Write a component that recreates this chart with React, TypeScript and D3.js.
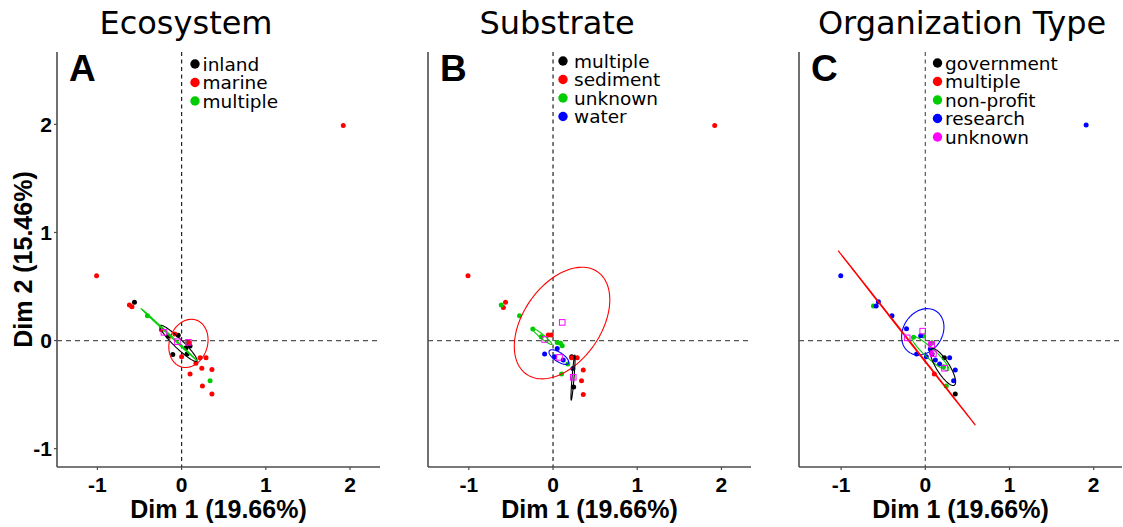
import React from "react";
import * as d3 from "d3";

const W = 1123;
const H = 527;

const palette: Record<string, string> = {
  black: "#000000",
  red: "#FF0000",
  green: "#00CD00",
  blue: "#0000FF",
  magenta: "#FF00FF",
};

const xTicks = [-1, 0, 1, 2];
const yTicks = [-1, 0, 1, 2];
const xTitle = "Dim 1 (19.66%)";
const yTitle = "Dim 2 (15.46%)";
const panelTitles = ["Ecosystem", "Substrate", "Organization Type"];
const panelLetters = ["A", "B", "C"];

// ---------- Panel A: Ecosystem ----------
const ecosystemGroups = ["inland", "marine", "multiple"];
const ecosystemColors = ["black", "red", "green"];
const ecosystemPoints: [number, number, string][] = [
  [-0.56, 0.354, "inland"], [-0.04, 0.05, "inland"], [0.05, -0.07, "inland"], [0.1, -0.05, "inland"],
  [-0.105, -0.128, "inland"], [0.065, -0.125, "inland"], [0.085, -0.02, "inland"], [-0.16, 0.04, "inland"],
  [-1.01, 0.6, "marine"], [1.92, 1.99, "marine"], [-0.62, 0.329, "marine"], [-0.59, 0.313, "marine"],
  [-0.08, 0.06, "marine"], [0.0, -0.15, "marine"], [0.17, -0.21, "marine"], [0.22, -0.16, "marine"],
  [0.29, -0.16, "marine"], [0.24, -0.257, "marine"], [0.36, -0.267, "marine"], [0.1, -0.31, "marine"],
  [0.247, -0.42, "marine"], [0.36, -0.495, "marine"], [0.09, -0.02, "marine"], [-0.24, 0.1, "marine"],
  [-0.406, 0.23, "multiple"], [0.338, -0.372, "multiple"],
];
// ellipse: group, centre x, centre y, semi-axis 1 (dx, dy), semi-axis 2 (dx, dy)
const ecosystemEllipses: [string, number, number, number, number, number, number][] = [
  ["inland", -0.038, -0.026, 0.218, -0.164, 0.037, 0.03],
  ["marine", 0.081, -0.026, 0.09, 0.216, 0.215, -0.055],
  ["multiple", -0.1525, 0.0575, 0.3275, -0.2375, 0.004, 0.005],
];
const ecosystemMeans: [number, number][] = [[-0.21, 0.076], [-0.05, -0.011], [0.081, -0.017]];

// ---------- Panel B: Substrate ----------
const substrateGroups = ["multiple", "sediment", "unknown", "water"];
const substrateColors = ["black", "red", "green", "blue"];
const substratePoints: [number, number, string][] = [
  [0.222, -0.15, "multiple"], [0.245, -0.43, "multiple"],
  [-1.01, 0.6, "sediment"], [1.92, 1.99, "sediment"], [-0.564, 0.354, "sediment"], [-0.59, 0.307, "sediment"],
  [-0.057, 0.051, "sediment"], [-0.021, 0.051, "sediment"], [0.22, -0.159, "sediment"], [0.287, -0.159, "sediment"],
  [0.359, -0.273, "sediment"], [0.338, -0.372, "sediment"], [0.359, -0.498, "sediment"],
  [-0.615, 0.329, "unknown"], [-0.398, 0.23, "unknown"], [-0.24, 0.106, "unknown"], [-0.14, 0.035, "unknown"],
  [0.05, -0.017, "unknown"], [0.089, -0.026, "unknown"], [0.109, -0.048, "unknown"], [0.176, -0.218, "unknown"],
  [0.101, -0.31, "unknown"],
  [-0.1, -0.125, "water"], [0.05, -0.073, "water"], [0.018, -0.15, "water"], [0.121, -0.18, "water"],
  [0.235, -0.258, "water"],
];
const substrateEllipses: [string, number, number, number, number, number, number][] = [
  ["sediment", 0.107, 0.162, 0.422, 0.474, 0.379, -0.205],
  ["unknown", -0.131, 0.039, 0.116, -0.074, 0.015, 0.014],
  ["water", 0.069, -0.153, 0.113, -0.058, 0.03, 0.035],
  ["multiple", 0.2375, -0.3425, 0.0215, 0.2085, 0.012, 0.001],
];
const substrateMeans: [number, number][] = [[0.109, 0.168], [-0.1, 0.01], [0.077, -0.156], [0.24, -0.34]];

// ---------- Panel C: Organization Type ----------
const orgGroups = ["government", "multiple", "non-profit", "research", "unknown"];
const orgColors = ["black", "red", "green", "blue", "magenta"];
const orgPoints: [number, number, string][] = [
  [0.226, -0.159, "government"], [0.356, -0.495, "government"], [0.08, -0.125, "government"],
  [0.107, -0.31, "multiple"],
  [-0.616, 0.319, "non-profit"], [-0.139, 0.03, "non-profit"], [-0.02, 0.042, "non-profit"],
  [0.08, -0.02, "non-profit"], [0.249, -0.421, "non-profit"], [0.217, -0.242, "non-profit"],
  [-1.004, 0.6, "research"], [1.91, 1.995, "research"], [-0.557, 0.359, "research"], [-0.584, 0.319, "research"],
  [-0.396, 0.23, "research"], [-0.223, 0.109, "research"], [-0.055, 0.045, "research"], [-0.103, -0.124, "research"],
  [0.012, -0.15, "research"], [0.059, -0.079, "research"], [0.119, -0.18, "research"], [0.17, -0.218, "research"],
  [0.289, -0.159, "research"], [0.356, -0.273, "research"], [0.336, -0.372, "research"],
  [0.059, -0.032, "unknown"], [0.077, -0.119, "unknown"],
];
const orgEllipses: [string, number, number, number, number, number, number][] = [
  ["research", -0.03, 0.081, 0.16, 0.19, 0.194, -0.099],
  ["multiple", -0.22, 0.0245, 0.815, -0.8075, 0.003, 0.003],
  ["non-profit", 0.059, -0.119, 0.217, -0.155, 0.04, 0.034],
  ["government", 0.21, -0.245, 0.135, -0.168, 0.066, 0.031],
];
const orgMeans: [number, number][] = [[-0.031, 0.087], [-0.215, 0.025], [0.076, -0.037], [0.096, -0.121], [0.228, -0.256]];

const panels = [
  { groups: ecosystemGroups, colors: ecosystemColors, points: ecosystemPoints, ellipses: ecosystemEllipses, means: ecosystemMeans },
  { groups: substrateGroups, colors: substrateColors, points: substratePoints, ellipses: substrateEllipses, means: substrateMeans },
  { groups: orgGroups, colors: orgColors, points: orgPoints, ellipses: orgEllipses, means: orgMeans },
];

// layout (not data)
const layout = [
  { left: 57, xMin: -1.48, titleX: 186, legX: 195, legTextX: 202.5, legY: 64, vDash: "#222" },
  { left: 428, xMin: -1.485, titleX: 557, legX: 563, legTextX: 574, legY: 61, vDash: "#222" },
  { left: 799, xMin: -1.5, titleX: 962, legX: 937.5, legTextX: 945, legY: 63, vDash: "#555" },
];
const plotW = 323;
const xSpan = 3.836;
const plotTop = 52;
const plotBottom = 467;
const legStep = 18.5;

const axisFont = "'Liberation Sans', Arial, sans-serif";
const textFont = "'DejaVu Sans', sans-serif";

function Panel({ idx }: { idx: number }) {
  const p = panels[idx];
  const L = layout[idx];
  const x = d3.scaleLinear().domain([L.xMin, L.xMin + xSpan]).range([L.left, L.left + plotW]);
  const y = d3.scaleLinear().domain([-1.17, 2.67]).range([plotBottom, plotTop]);
  const right = L.left + plotW;
  const colorOf = (g: string) => palette[p.colors[p.groups.indexOf(g)]];
  const line = d3.line<[number, number]>().x((d) => x(d[0])).y((d) => y(d[1])).curve(d3.curveLinearClosed);
  const ts = d3.range(0, 120).map((i) => (i / 120) * Math.PI * 2);

  return (
    <g>
      <text x={L.titleX} y={33.5} textAnchor="middle" fontFamily={textFont} fontSize={32} fill="#000">
        {panelTitles[idx]}
      </text>
      {/* reference lines */}
      <line x1={L.left} x2={right} y1={y(0)} y2={y(0)} stroke="#555" strokeWidth={1.2} strokeDasharray="5,4" />
      <line x1={x(0)} x2={x(0)} y1={plotTop} y2={plotBottom} stroke={L.vDash} strokeWidth={1.2} strokeDasharray="4,3.5" />
      {/* points */}
      {p.points.map((d, i) => (
        <circle key={"p" + i} cx={x(d[0])} cy={y(d[1])} r={2.5} fill={colorOf(d[2])} />
      ))}
      {/* ellipses */}
      {p.ellipses.map((e, i) => {
        const pts: [number, number][] = ts.map((t) => [
          e[1] + Math.cos(t) * e[3] + Math.sin(t) * e[5],
          e[2] + Math.cos(t) * e[4] + Math.sin(t) * e[6],
        ]);
        return <path key={"e" + i} d={line(pts) || ""} fill="none" stroke={colorOf(e[0])} strokeWidth={1.1} />;
      })}
      {/* group means */}
      {p.means.map((m, i) => (
        <rect key={"m" + i} x={x(m[0]) - 2.8} y={y(m[1]) - 2.8} width={5.6} height={5.6} fill="none" stroke={palette.magenta} strokeWidth={1} />
      ))}
      {/* axes */}
      <line x1={L.left} x2={L.left} y1={plotTop} y2={plotBottom} stroke="#4d4d4d" strokeWidth={1.6} />
      <line x1={L.left} x2={right} y1={plotBottom} y2={plotBottom} stroke="#4d4d4d" strokeWidth={1.6} />
      {xTicks.map((t) => (
        <g key={"xt" + t}>
          <line x1={x(t)} x2={x(t)} y1={plotBottom} y2={plotBottom + 3} stroke="#4d4d4d" strokeWidth={1.2} />
          <text x={x(t)} y={492} textAnchor="middle" fontFamily={axisFont} fontWeight="bold" fontSize={21} fill="#000">
            {t}
          </text>
        </g>
      ))}
      {idx === 0 &&
        yTicks.map((t) => (
          <g key={"yt" + t}>
            <line x1={L.left - 3} x2={L.left} y1={y(t)} y2={y(t)} stroke="#4d4d4d" strokeWidth={1.2} />
            <text x={L.left - 5} y={y(t) + 7.5} textAnchor="end" fontFamily={axisFont} fontWeight="bold" fontSize={21} fill="#000">
              {t}
            </text>
          </g>
        ))}
      <text x={(L.left + right) / 2} y={518} textAnchor="middle" fontFamily={axisFont} fontWeight="bold" fontSize={25} fill="#000">
        {xTitle}
      </text>
      {idx === 0 && (
        <text
          transform={`translate(32, ${(plotTop + plotBottom) / 2}) rotate(-90)`}
          textAnchor="middle"
          fontFamily={axisFont}
          fontWeight="bold"
          fontSize={25}
          fill="#000"
        >
          {yTitle}
        </text>
      )}
      {/* panel letter */}
      <text x={L.left + 12} y={80.5} fontFamily={axisFont} fontWeight="bold" fontSize={37} fill="#000">
        {panelLetters[idx]}
      </text>
      {/* legend */}
      {p.groups.map((g, i) => (
        <g key={"lg" + g}>
          <circle cx={L.legX} cy={L.legY + i * legStep} r={4.7} fill={palette[p.colors[i]]} />
          <text x={L.legTextX} y={L.legY + i * legStep + 6.5} fontFamily={textFont} fontSize={18.5} fill="#000">
            {g}
          </text>
        </g>
      ))}
    </g>
  );
}

export default function App() {
  return (
    <svg
      width={W}
      height={H}
      viewBox={`0 0 ${W} ${H}`}
      style={{ position: "absolute", left: 0, top: 0, display: "block", background: "#fff" }}
    >
      <rect width={W} height={H} fill="#fff" />
      {[0, 1, 2].map((i) => (
        <Panel key={i} idx={i} />
      ))}
    </svg>
  );
}
